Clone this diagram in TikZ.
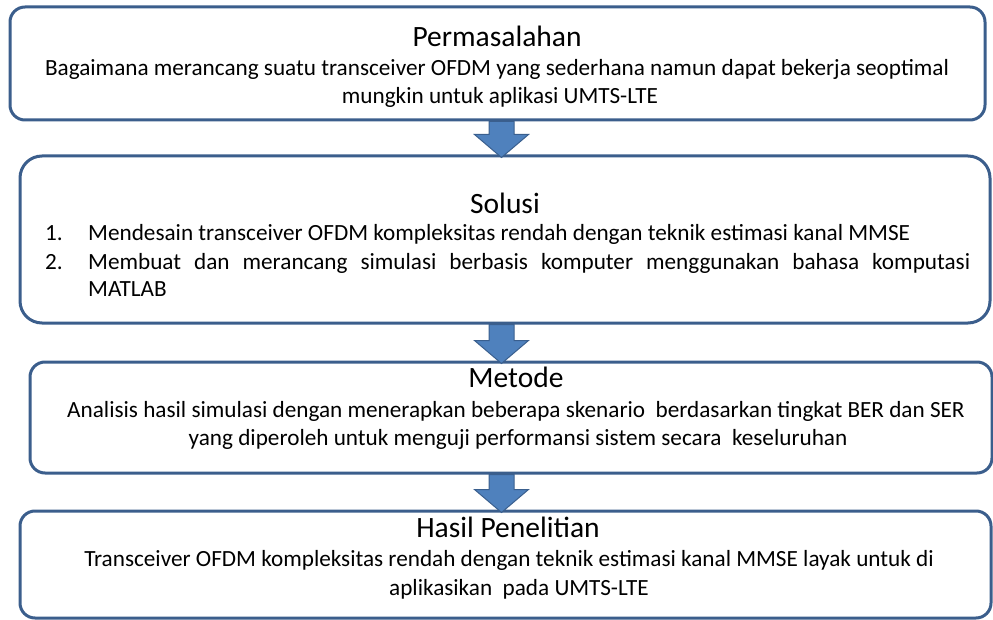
\documentclass[tikz,border=0pt]{standalone}
\usepackage{fontspec}
\setmainfont{Carlito}
\usetikzlibrary{calc}
\definecolor{boxline}{HTML}{3B5E8C}
\definecolor{arrowfill}{HTML}{4F81BD}
\definecolor{arrowline}{HTML}{3A5F8E}
\tikzset{
  stagebox/.style={draw=boxline, line width=3pt, rounded corners=15pt, fill=white, inner sep=0pt},
  heading/.style={anchor=base, inner sep=0pt, font=\fontsize{29.5}{33}\selectfont},
  bodytext/.style={anchor=base, inner sep=0pt, font=\fontsize{23.2}{27}\selectfont},
  bodyleft/.style={bodytext, anchor=base west},
  bigarrow/.style={fill=arrowfill, draw=arrowline, line width=1pt, line join=miter},
}
% block arrow from the bottom of one box to the top of the next
\newcommand{\stagearrow}[2]{%
  \draw[bigarrow]
    ($(ax |- #1.south)+(-12.5,0)$) -- ($(ax |- #2.north)+(-12.5,-20)$)
    -- ($(ax |- #2.north)+(-27,-20)$) -- ($(ax |- #2.north)+(0,3)$)
    -- ($(ax |- #2.north)+(27,-20)$) -- ($(ax |- #2.north)+(12.5,-20)$)
    -- ($(ax |- #1.south)+(12.5,0)$) -- cycle;}
\begin{document}
\begin{tikzpicture}[x=1pt,y=-1pt]
\useasboundingbox (0,0) rectangle (993,620);
\coordinate (ax) at (501.5,0);

% stage boxes
\node[stagebox, minimum width=975pt, minimum height=113pt] (b1) at (497.5,63.5) {};
\node[stagebox, rounded corners=22pt, minimum width=970pt, minimum height=167pt] (b2) at (505,239.5) {};
\node[stagebox, minimum width=962pt, minimum height=111pt] (b3) at (511,417.5) {};
\node[stagebox, minimum width=971pt, minimum height=107pt] (b4) at (505.5,564.5) {};

% arrows between stages
\stagearrow{b1}{b2}
\stagearrow{b2}{b3}
\stagearrow{b3}{b4}

% Permasalahan
\node[heading] (h1) at (497,47) {Permasalahan};
\node[bodytext] (p1) at (497,76) {Bagaimana merancang suatu transceiver OFDM yang sederhana namun dapat bekerja seoptimal};
\node[bodytext] (p2) at (500,104) {mungkin untuk aplikasi UMTS-LTE};

% Solusi
\node[heading] (h2) at (505,214) {Solusi};
\node[bodyleft] (n1) at (45,241) {1.};
\node[bodyleft] (s1) at (88,241) {Mendesain transceiver OFDM kompleksitas rendah dengan teknik estimasi kanal MMSE};
\node[bodyleft] (n2) at (45,270) {2.};
\node[bodyleft] (s2) at (88,270) {\makebox[882pt][s]{Membuat dan merancang simulasi berbasis komputer menggunakan bahasa komputasi}};
\node[bodyleft] (s3) at (88,297) {MATLAB};

% Metode
\node[heading] (h3) at (516,387) {Metode};
\node[bodytext] (m1) at (516,417) {Analisis hasil simulasi dengan menerapkan beberapa skenario\ \ berdasarkan tingkat BER dan SER};
\node[bodytext] (m2) at (518,445) {yang diperoleh untuk menguji performansi sistem secara\ \ keseluruhan};

% Hasil Penelitian
\node[heading] (h4) at (508,537) {Hasil Penelitian};
\node[bodytext] (r1) at (509,566) {Transceiver OFDM kompleksitas rendah dengan teknik estimasi kanal MMSE layak untuk di};
\node[bodytext] (r2) at (519,595) {aplikasikan\ \ pada UMTS-LTE};
\end{tikzpicture}
\end{document}
